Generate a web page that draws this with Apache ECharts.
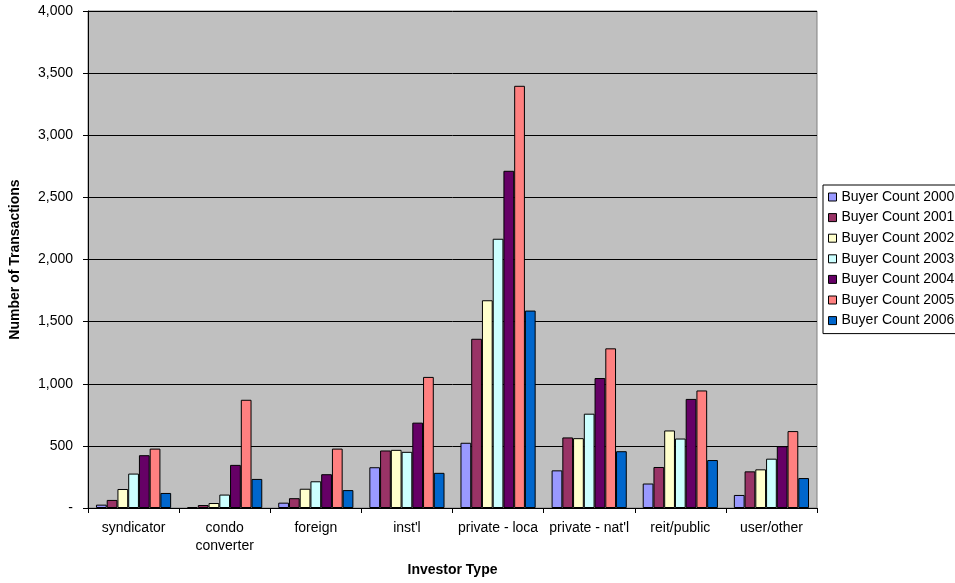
<!DOCTYPE html>
<html><head><meta charset="utf-8">
<script src="https://cdn.jsdelivr.net/npm/echarts@6/dist/echarts.min.js"></script>
<style>html,body{margin:0;padding:0;background:#fff}#c{width:955px;height:583px}</style>
</head><body><div id="c"></div>
<script>
const categories = ["syndicator", "condo\nconverter", "foreign", "inst'l", "private - loca", "private - nat'l", "reit/public", "user/other"];
const seriesNames = ["Buyer Count 2000","Buyer Count 2001","Buyer Count 2002","Buyer Count 2003","Buyer Count 2004","Buyer Count 2005","Buyer Count 2006"];
const y2000 = [27, 8, 43, 328, 525, 303, 197, 105];
const y2001 = [65, 24, 79, 463, 1362, 568, 330, 295];
const y2002 = [153, 40, 155, 468, 1672, 562, 624, 311];
const y2003 = [277, 108, 215, 452, 2167, 759, 559, 397];
const y2004 = [425, 347, 272, 687, 2714, 1046, 878, 497];
const y2005 = [478, 871, 478, 1055, 3398, 1285, 946, 619];
const y2006 = [121, 234, 144, 283, 1589, 457, 386, 241];
const colors = ["#9999FF","#993366","#FFFFCC","#CCFFFF","#660066","#FF8080","#0066CC"];
const allData = [y2000,y2001,y2002,y2003,y2004,y2005,y2006];

const chart = echarts.init(document.getElementById('c'));
const font = 'Arial, "Liberation Sans", sans-serif';
chart.setOption({
  animation: false,
  textStyle: {fontFamily: font},
  grid: {left: 88, right: 138, top: 11, bottom: 75, show: true, backgroundColor: '#C0C0C0', borderColor: '#808080', borderWidth: 1},
  legend: {
    orient: 'vertical', left: 823, top: 185, width: 150,
    itemWidth: 8, itemHeight: 8, itemGap: 6.6, itemTextGap: 4,
    borderColor: '#000', borderWidth: 1, padding: [5, 5, 6, 5],
    textStyle: {fontSize: 14, lineHeight: 14, color: '#000', fontFamily: font},
    icon: 'rect',
    itemStyle: {borderColor: '#000', borderWidth: 1},
    data: seriesNames
  },
  xAxis: {
    type: 'category', data: categories,
    name: 'Investor Type', nameLocation: 'middle', nameGap: 55,
    nameTextStyle: {fontWeight: 'bold', fontSize: 14, color: '#000'},
    axisLine: {lineStyle: {color: '#000'}},
    axisTick: {show: true, alignWithLabel: false, length: 5, lineStyle: {color: '#000'}},
    axisLabel: {color: '#000', fontSize: 14, margin: 11, interval: 0, lineHeight: 18}
  },
  yAxis: {
    type: 'value', min: 0, max: 4000, interval: 500,
    name: 'Number of Transactions', nameLocation: 'middle', nameGap: 66,
    nameTextStyle: {fontWeight: 'bold', fontSize: 14, color: '#000'},
    axisLine: {show: true, lineStyle: {color: '#000'}},
    axisTick: {show: true, length: 5, lineStyle: {color: '#000'}},
    splitLine: {lineStyle: {color: '#000', width: 1}},
    axisLabel: {color: '#000', fontSize: 14, margin: 15,
      formatter: v => v === 0 ? '-' : v.toLocaleString('en-US')}
  },
  series: seriesNames.map((n, i) => ({
    name: n, type: 'bar', data: allData[i],
    barGap: '0%', barCategoryGap: '17.5%',
    itemStyle: {color: colors[i], borderColor: '#000', borderWidth: 1}
  }))
});
</script></body></html>
